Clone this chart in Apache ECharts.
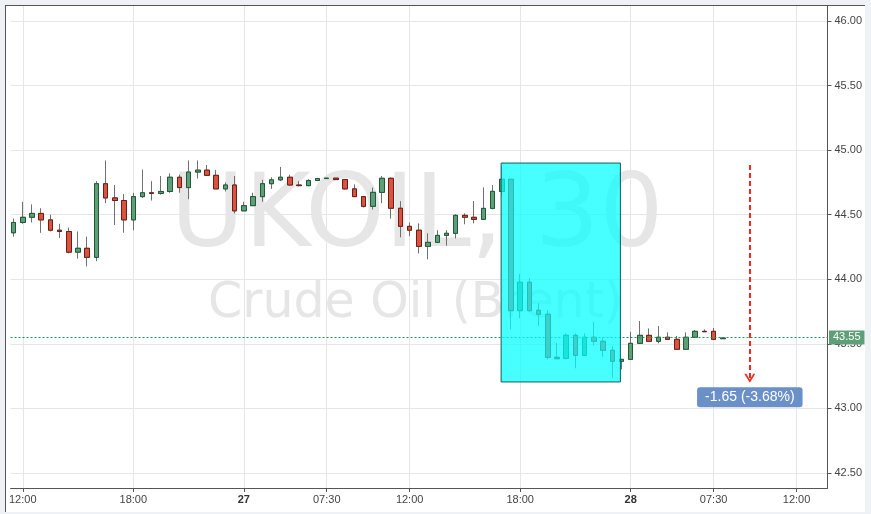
<!DOCTYPE html>
<html>
<head>
<meta charset="utf-8">
<script src="https://cdn.jsdelivr.net/npm/echarts@6/dist/echarts.min.js"></script>
<style>
  html, body { margin: 0; padding: 0; background: #eef2f6; width: 871px; height: 514px; overflow: hidden; }
  #wrap { position: absolute; left: 5px; top: 5px; width: 859px; height: 506px; background: #fff;
          border-left: 1px solid #555; border-top: 1px solid #555; }
  #chart { width: 859px; height: 506px; }
</style>
</head>
<body>
<div id="wrap"><div id="chart"></div></div>
<script>
// 30-minute candles, UKOIL (Brent), slot index 0..77
const openV = [44.36,44.44,44.48,44.51,44.46,44.38,44.37,44.21,44.24,44.17,
  44.74,44.63,44.61,44.46,44.64,44.67,44.665,44.68,44.79,44.71,
  44.83,44.845,44.805,44.70,44.73,44.53,44.57,44.64,44.74,44.77,
  44.79,44.73,44.725,44.765,44.78,44.783,44.772,44.70,44.64,44.565,
  44.673,44.782,44.55,44.41,44.38,44.255,44.286,44.34,44.356,44.495,
  44.48,44.464,44.549,44.68,44.774,43.757,43.977,43.76,43.729,43.396,
  43.388,43.566,43.411,43.551,43.52,43.45,43.365,43.38,43.504,43.566,
  43.52,43.551,43.535,43.458,43.551,43.597,43.597,43.54];
const closeV = [44.44,44.48,44.51,44.46,44.38,44.37,44.21,44.24,44.17,44.74,
  44.63,44.61,44.46,44.64,44.67,44.665,44.68,44.79,44.71,44.83,
  44.845,44.805,44.70,44.73,44.53,44.57,44.64,44.74,44.77,44.79,
  44.73,44.725,44.765,44.78,44.783,44.772,44.70,44.64,44.565,44.673,
  44.782,44.55,44.41,44.38,44.255,44.286,44.34,44.356,44.495,44.48,
  44.464,44.549,44.681,44.774,43.757,43.977,43.757,43.729,43.396,43.385,
  43.566,43.411,43.551,43.52,43.45,43.365,43.38,43.504,43.566,43.52,
  43.551,43.535,43.458,43.551,43.597,43.594,43.535,43.545];
const lowV = [44.33,44.43,44.44,44.36,44.37,44.32,44.20,44.16,44.10,44.14,
  44.59,44.42,44.36,44.38,44.63,44.61,44.655,44.67,44.67,44.62,
  44.78,44.80,44.70,44.68,44.51,44.53,44.57,44.60,44.70,44.76,
  44.725,44.72,44.72,44.76,44.78,44.77,44.695,44.64,44.555,44.54,
  44.59,44.47,44.325,44.333,44.20,44.155,44.28,44.26,44.317,44.426,
  44.433,44.46,44.542,44.64,43.613,43.698,43.749,43.64,43.38,43.384,
  43.38,43.311,43.41,43.489,43.40,43.241,43.303,43.378,43.50,43.518,
  43.504,43.534,43.457,43.457,43.55,43.593,43.534,43.54];
const highV = [44.47,44.60,44.58,44.55,44.50,44.43,44.40,44.37,44.33,44.76,
  44.92,44.73,44.66,44.67,44.85,44.76,44.80,44.82,44.81,44.92,
  44.92,44.885,44.846,44.75,44.80,44.60,44.67,44.77,44.79,44.87,
  44.81,44.76,44.775,44.785,44.785,44.785,44.775,44.735,44.645,44.71,
  44.80,44.79,44.605,44.44,44.433,44.356,44.38,44.38,44.503,44.511,
  44.606,44.712,44.73,44.877,44.776,44.041,44.01,43.814,43.762,43.509,
  43.582,43.582,43.582,43.667,43.551,43.481,43.382,43.594,43.677,43.62,
  43.638,43.589,43.561,43.589,43.607,43.612,43.623,43.545];

// time axis labels at slot indices
const xTickIdx  = [1, 13, 25, 34, 43, 55, 67, 76, 85];
const xTickText = ['12:00', '18:00', '27', '07:30', '12:00', '18:00', '28', '07:30', '12:00'];
const xBold     = ['27', '28'];
// price axis
const yTicks = [42.5, 43.0, 43.5, 44.0, 44.5, 45.0, 45.5, 46.0];
const lastPrice = 43.55;
// highlighted drop
const boxFrom = [52.93, 44.90];
const boxTo   = [65.88, 43.205];
const arrowX = 79.93, arrowTop = 44.885, arrowBottom = 43.233;
const changeText = '-1.65 (-3.68%)';
const changeAt = [79.93, 43.086];

const fullData = openV.map((o, i) => [i, o, closeV[i], lowV[i], highV[i]]);
const bodyData = openV.map((o, i) => [i, o, closeV[i], Math.min(o, closeV[i]), Math.max(o, closeV[i])]);

const chart = echarts.init(document.getElementById('chart'), null, { renderer: 'canvas' });
const FONT = 'Liberation Sans, Arial, sans-serif';

chart.setOption({
  animation: false,
  backgroundColor: '#ffffff',
  grid: { left: 0, top: 0, right: 37.5, bottom: 24, containLabel: false },
  graphic: [
    { type: 'text', silent: true, z: 0, x: 411, y: 214,
      style: { text: 'UKOIL, 30', fill: '#e6e6e6', font: '101px "DejaVu Sans"',
               align: 'center', verticalAlign: 'middle' } },
    { type: 'text', silent: true, z: 0, x: 409.5, y: 298,
      style: { text: 'Crude Oil (Brent)', fill: '#e6e6e6', font: '49px "DejaVu Sans"',
               align: 'center', verticalAlign: 'middle' } }
  ],
  xAxis: {
    type: 'value', min: -0.328, max: 88.36,
    axisLine: { show: true, onZero: false, lineStyle: { color: '#555', width: 1 } },
    axisTick: { show: true, customValues: xTickIdx, length: 4, lineStyle: { color: '#555' } },
    axisLabel: {
      customValues: xTickIdx, margin: 6, color: '#444', fontSize: 11, fontFamily: FONT,
      formatter: function (v) {
        const k = xTickIdx.indexOf(Math.round(v));
        const t = k >= 0 ? xTickText[k] : '';
        return xBold.indexOf(t) >= 0 ? '{b|' + t + '}' : t;
      },
      rich: { b: { fontWeight: 'bold', fontSize: 11, fontFamily: FONT, color: '#333' } }
    },
    splitLine: { show: true, lineStyle: { color: '#e6e6e6', width: 1 } }
  },
  yAxis: {
    type: 'value', position: 'right', scale: true, min: 42.384, max: 46.116,
    axisLine: { show: true, onZero: false, lineStyle: { color: '#555', width: 1 } },
    axisTick: { show: true, customValues: yTicks, length: 4, lineStyle: { color: '#555' } },
    axisLabel: { customValues: yTicks, margin: 7, color: '#444', fontSize: 11, fontFamily: FONT,
                 formatter: v => v.toFixed(2) },
    splitLine: { show: true, lineStyle: { color: '#e6e6e6', width: 1 } }
  },
  series: [
    {
      name: 'wicks', type: 'candlestick', z: 2, silent: true, barWidth: 5,
      encode: { x: 0, y: [1, 2, 3, 4] },
      data: fullData,
      itemStyle: { color: 'rgba(0,0,0,0)', color0: 'rgba(0,0,0,0)', borderColor: '#707070',
                   borderColor0: '#707070', borderColorDoji: '#707070', borderWidth: 1 },
      markLine: {
        silent: true, symbol: 'none', animation: false, z: 4,
        lineStyle: { color: '#1a9a50', type: [2, 2], width: 1, opacity: 1 },
        label: { show: true, position: 'end', distance: 1.5, formatter: lastPrice.toFixed(2),
                 backgroundColor: '#5f9f78', color: '#fff', fontSize: 11, fontFamily: FONT,
                 padding: [2, 4, 1, 4] },
        emphasis: { disabled: true },
        data: [{ yAxis: lastPrice }]
      }
    },
    {
      name: 'bodies', type: 'candlestick', z: 3, silent: true, barWidth: 5,
      encode: { x: 0, y: [1, 2, 3, 4] },
      data: bodyData,
      itemStyle: { color: '#5f9f78', color0: '#d9533f', borderColor: '#1f5a36',
                   borderColor0: '#6e1d14', borderColorDoji: '#6e1d14', borderWidth: 1 }
    },
    {
      name: 'overlay', type: 'line', z: 5, silent: true, data: [],
      markArea: {
        silent: true, z: 10,
        itemStyle: { color: 'rgba(0,255,255,0.72)', borderColor: '#125c5c', borderWidth: 1 },
        emphasis: { disabled: true },
        data: [[{ coord: boxFrom }, { coord: boxTo }]]
      },
      markLine: {
        silent: true, z: 11,
        symbol: ['none', 'path://M0,10 L5,0 L10,10 L8.2,10 L5,3.8 L1.8,10 Z'],
        symbolSize: [11, 9],
        lineStyle: { color: '#ee2a22', type: [5, 3], width: 2 },
        label: { show: false },
        emphasis: { disabled: true },
        data: [[{ coord: [arrowX, arrowTop] }, { coord: [arrowX, arrowBottom] }]]
      },
      markPoint: {
        silent: true, z: 11, symbol: 'rect', symbolSize: 0,
        label: { show: true, position: 'inside', formatter: changeText, color: '#fff',
                 fontSize: 14, fontFamily: FONT, backgroundColor: '#6b8fc7', borderRadius: 3,
                 padding: [3, 8, 3, 8] },
        data: [{ coord: changeAt }]
      }
    }
  ]
});
</script>
</body>
</html>
